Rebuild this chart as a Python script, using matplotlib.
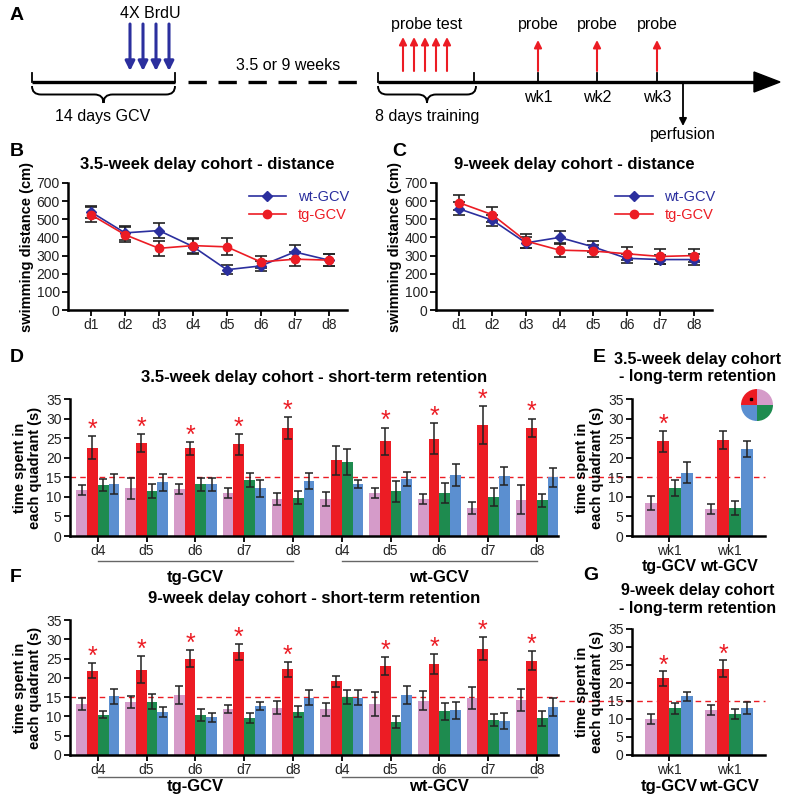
import numpy as np
import matplotlib
matplotlib.use('Agg')
import matplotlib.pyplot as plt
from matplotlib.path import Path
from matplotlib.patches import PathPatch, Polygon
from matplotlib.lines import Line2D

plt.rcParams['font.family'] = ['Liberation Sans', 'DejaVu Sans']

# ---- data ----
days = ['d1', 'd2', 'd3', 'd4', 'd5', 'd6', 'd7', 'd8']

b_wt = [540, 425, 438, 350, 222, 243, 320, 275]
b_wt_err = [35, 38, 40, 40, 25, 28, 38, 35]
b_tg = [525, 415, 340, 355, 348, 265, 280, 275]
b_tg_err = [40, 40, 40, 40, 47, 32, 40, 35]

c_wt = [558, 495, 370, 400, 348, 285, 278, 278]
c_wt_err = [35, 30, 30, 38, 30, 25, 25, 28]
c_tg = [592, 525, 380, 330, 325, 310, 295, 300]
c_tg_err = [42, 40, 40, 40, 35, 35, 40, 38]

ret_days = ['d4', 'd5', 'd6', 'd7', 'd8']
groups = ['tg-GCV', 'wt-GCV']

# quadrants: pink, red (target), green, blue ; tg d4-d8 then wt d4-d8
d_pink = [11.8, 12.2, 12.1, 11.0, 9.5, 9.4, 11.0, 9.5, 7.2, 9.3]
d_pink_err = [1.2, 2.7, 1.3, 1.3, 1.6, 1.8, 1.2, 1.3, 1.5, 3.8]
d_red = [22.6, 23.7, 22.4, 23.4, 27.6, 19.4, 24.2, 24.9, 28.4, 27.6]
d_red_err = [3.0, 2.3, 1.7, 2.7, 2.8, 3.7, 3.5, 4.0, 4.8, 2.4]
d_green = [13.0, 11.5, 13.2, 14.3, 9.8, 18.9, 11.4, 11.0, 10.0, 9.1]
d_green_err = [1.5, 1.8, 1.7, 1.7, 1.7, 3.4, 2.6, 2.5, 2.3, 1.7]
d_blue = [13.3, 13.7, 13.2, 12.2, 14.0, 13.3, 14.6, 15.6, 15.4, 15.0]
d_blue_err = [2.6, 2.1, 1.7, 2.2, 2.0, 1.0, 1.7, 2.7, 2.3, 2.5]
d_star = [1, 1, 1, 1, 1, 0, 1, 1, 1, 1]

e_pink = [8.5, 7.0]
e_pink_err = [1.8, 1.3]
e_red = [24.2, 24.6]
e_red_err = [2.7, 2.3]
e_green = [12.2, 7.2]
e_green_err = [2.0, 1.8]
e_blue = [16.2, 22.2]
e_blue_err = [2.6, 2.1]
e_star = [1, 0]

f_pink = [13.3, 13.8, 15.6, 11.9, 12.3, 11.8, 13.3, 14.1, 14.8, 14.2]
f_pink_err = [1.6, 1.5, 2.3, 1.1, 1.6, 1.6, 3.1, 2.5, 2.9, 2.8]
f_red = [21.9, 22.1, 25.0, 26.7, 22.2, 19.1, 23.1, 23.6, 27.6, 24.5]
f_red_err = [2.0, 3.5, 2.1, 2.1, 1.9, 1.5, 2.3, 2.7, 3.0, 2.4]
f_green = [10.5, 13.8, 10.4, 9.6, 11.2, 15.0, 8.6, 11.3, 9.1, 9.5]
f_green_err = [1.0, 1.9, 1.5, 1.4, 1.4, 1.9, 1.5, 2.2, 1.6, 2.0]
f_blue = [15.2, 11.2, 9.8, 12.7, 14.9, 14.9, 15.5, 11.6, 8.8, 12.4]
f_blue_err = [2.0, 1.3, 1.2, 1.0, 1.9, 2.0, 2.3, 2.2, 2.0, 2.4]
f_star = [1, 1, 1, 1, 1, 0, 1, 1, 1, 1]

g_pink = [10.1, 12.4]
g_pink_err = [1.4, 1.4]
g_red = [21.3, 24.0]
g_red_err = [2.0, 2.3]
g_green = [13.0, 11.3]
g_green_err = [1.5, 1.4]
g_blue = [16.3, 13.1]
g_blue_err = [1.2, 1.6]
g_star = [1, 1]

chance = 15

NAVY = '#2b2f9e'
RED = '#ec1c24'
quad_colors = ['#d59bc9', RED, '#1e8b4f', '#5b8fd0']
TXT = '#222222'

W, H = 800, 794
fig = plt.figure(figsize=(W / 100, H / 100), dpi=100)


def px_axes(x0, y0, x1, y1):
    return fig.add_axes([x0 / W, 1 - y1 / H, (x1 - x0) / W, (y1 - y0) / H])


def style(ax):
    for s in ['top', 'right']:
        ax.spines[s].set_visible(False)
    for s in ['left', 'bottom']:
        ax.spines[s].set_linewidth(1.8)
    ax.tick_params(direction='out', length=4, width=1.3, labelsize=10, colors='black', labelcolor=TXT, pad=2)


# ---- panel A: timeline ----
axA = px_axes(0, 0, 800, 140)
axA.set_xlim(0, 800)
axA.set_ylim(140, 0)
axA.axis('off')

line_y = 82
axA.plot([32, 175], [line_y, line_y], color='black', lw=2.4, solid_capstyle='butt')
axA.plot([188, 367], [line_y, line_y], color='black', lw=2.4, ls=(0, (5.5, 3.5)))
axA.plot([378, 758], [line_y, line_y], color='black', lw=2.4, solid_capstyle='butt')
axA.add_patch(Polygon([[754, 72], [780, line_y], [754, 92]], closed=True, color='black'))

for xt in [32, 175, 378, 474, 538, 597, 657]:
    axA.plot([xt, xt], [line_y - 9, line_y], color='black', lw=1.3)


def arrow(x, y_from, y_to, color, lw=2, ms=12):
    axA.annotate('', xy=(x, y_to), xytext=(x, y_from),
                 arrowprops=dict(arrowstyle='-|>', color=color, lw=lw, mutation_scale=ms,
                                 shrinkA=0, shrinkB=0))


for xb in [130, 143, 156, 169]:
    arrow(xb, 24, 71, NAVY, lw=2.2, ms=14)
for xr in [403, 414, 425, 436, 447]:
    arrow(xr, 71, 37, RED, lw=1.5, ms=11)
for xr in [538, 597, 657]:
    arrow(xr, 71, 40, RED, lw=1.5, ms=11)
arrow(683, 84, 126, 'black', lw=1.3, ms=11)


def brace(x0, x1, y, h, r=9):
    xm = (x0 + x1) / 2
    yh = y + h / 2
    verts = [(x0, y), (x0, yh), (x0 + r, yh), (xm - r, yh), (xm, yh), (xm, y + h),
             (x1, y), (x1, yh), (x1 - r, yh), (xm + r, yh), (xm, yh), (xm, y + h)]
    codes = [Path.MOVETO, Path.CURVE3, Path.CURVE3, Path.LINETO, Path.CURVE3, Path.CURVE3] * 2
    axA.add_patch(PathPatch(Path(verts, codes), fill=False, lw=1.4, color='black'))


brace(32, 175, 86, 17)
brace(378, 476, 86, 17)

fs_a = 11.5
axA.text(150, 13, '4X BrdU', ha='center', va='center', fontsize=fs_a)
axA.text(288, 66, '3.5 or 9 weeks', ha='center', va='center', fontsize=fs_a)
axA.text(427, 25, 'probe test', ha='center', va='center', fontsize=fs_a)
for xp, wk in zip([538, 597, 657], ['wk1', 'wk2', 'wk3']):
    axA.text(xp, 25, 'probe', ha='center', va='center', fontsize=fs_a)
    axA.text(xp, 98, wk, ha='center', va='center', fontsize=fs_a)
axA.text(103, 117, '14 days GCV', ha='center', va='center', fontsize=fs_a)
axA.text(427, 117, '8 days training', ha='center', va='center', fontsize=fs_a)
axA.text(683, 134, 'perfusion', ha='center', va='center', fontsize=fs_a)


# ---- panels B, C: swimming distance ----
def distance_panel(ax, wt, wt_err, tg, tg_err, title):
    x = np.arange(1, len(days) + 1)
    ax.errorbar(x, wt, yerr=wt_err, color=NAVY, marker='D', ms=5, lw=1.2,
                ecolor='#222', elinewidth=1.2, capsize=4, capthick=1.2, label='wt-GCV', zorder=3)
    ax.errorbar(x, tg, yerr=tg_err, color=RED, marker='o', ms=6, lw=1.2,
                ecolor='#222', elinewidth=1.2, capsize=4, capthick=1.2, label='tg-GCV', zorder=3)
    ax.set_xlim(0.32, 8.54)
    ax.set_ylim(0, 700)
    ax.set_yticks(range(0, 701, 100))
    ax.set_xticks(x)
    ax.set_xticklabels(days)
    style(ax)
    ax.set_ylabel('swimming distance (cm)', fontsize=10.5, fontweight='bold', labelpad=2)
    ax.set_title(title, fontsize=12, fontweight='bold', pad=10)
    handles = [Line2D([], [], color=NAVY, marker='D', ms=5, lw=1.2),
               Line2D([], [], color=RED, marker='o', ms=6, lw=1.2)]
    ax.legend(handles, ['wt-GCV', 'tg-GCV'], loc='upper left', bbox_to_anchor=(0.6, 1.05),
              frameon=False, fontsize=10.5, handlelength=2.6, labelspacing=0.3,
              labelcolor=[NAVY, RED])


axB = px_axes(68, 183, 347, 310)
distance_panel(axB, b_wt, b_wt_err, b_tg, b_tg_err, '3.5-week delay cohort - distance')
axC = px_axes(436, 183, 712, 310)
distance_panel(axC, c_wt, c_wt_err, c_tg, c_tg_err, '9-week delay cohort - distance')


# ---- quadrant bar panels ----
def quad_panel(ax, means, errs, stars, xlim, w=0.2):
    n = len(means[0])
    x = np.arange(n)
    offs = [-1.5 * w, -0.5 * w, 0.5 * w, 1.5 * w]
    for k in range(4):
        ax.bar(x + offs[k], means[k], w, color=quad_colors[k], linewidth=0, zorder=2)
        ax.errorbar(x + offs[k], means[k], yerr=errs[k], fmt='none', ecolor='#222',
                    elinewidth=1.1, capsize=3, capthick=1.1, zorder=3)
    for i in range(n):
        if stars[i]:
            top = means[1][i] + errs[1][i]
            ax.text(x[i] + offs[1], top + 1.6, '*', color=RED, ha='center', va='center',
                    fontsize=18)
    ax.set_xlim(*xlim)
    ax.set_ylim(0, 35)
    ax.set_yticks(range(0, 36, 5))
    ax.set_xticks(x)
    style(ax)
    ax.set_ylabel('time spent in\neach quadrant (s)', fontsize=10.5, fontweight='bold',
                  labelpad=3, linespacing=1.1)
    return x


def group_marks(ax, x, line_y, text_y):
    tr = ax.get_xaxis_transform()
    n = len(ret_days)
    for g, name in enumerate(groups):
        xs = x[g * n:(g + 1) * n]
        ax.plot([xs[0], xs[-1]], [line_y, line_y], color='#666', lw=1, transform=tr, clip_on=False)
        ax.text((xs[0] + xs[-1]) / 2, text_y, name, transform=tr, ha='center', va='center',
                fontsize=12, fontweight='bold')


def small_title(lines, y_px):
    for k, t in enumerate(lines):
        fig.text(698 / W, 1 - (y_px + 18 * k) / H, t, ha='center', va='center',
                 fontsize=11.5, fontweight='bold')


# D
axD = px_axes(70, 399, 558, 536)
xD = quad_panel(axD, [d_pink, d_red, d_green, d_blue],
                [d_pink_err, d_red_err, d_green_err, d_blue_err], d_star, (-0.57, 9.43), w=0.22)
axD.set_xticklabels(ret_days * 2)
axD.axhline(chance, color=RED, lw=1, ls=(0, (4, 3)), zorder=1)
axD.set_title('3.5-week delay cohort - short-term retention', fontsize=12, fontweight='bold', pad=12)
group_marks(axD, xD, -0.185, -0.30)

# E
axE = px_axes(632, 399, 765, 536)
xE = quad_panel(axE, [e_pink, e_red, e_green, e_blue],
                [e_pink_err, e_red_err, e_green_err, e_blue_err], e_star, (-0.62, 1.6))
axE.set_xticklabels(['wk1', 'wk1'])
axE.plot([-0.55, 1], [chance, chance], color=RED, lw=1, ls=(0, (4, 3)),
         transform=axE.get_yaxis_transform(), clip_on=False, zorder=1)
small_title(['3.5-week delay cohort', '- long-term retention'], 359)
for xi, name in zip(xE, groups):
    axE.text(xi, -0.22, name, transform=axE.get_xaxis_transform(), ha='center', va='center',
             fontsize=11.5, fontweight='bold')

# F
axF = px_axes(70, 620, 558, 755)
xF = quad_panel(axF, [f_pink, f_red, f_green, f_blue],
                [f_pink_err, f_red_err, f_green_err, f_blue_err], f_star, (-0.57, 9.43), w=0.22)
axF.set_xticklabels(ret_days * 2)
axF.axhline(chance, color=RED, lw=1, ls=(0, (4, 3)), zorder=1)
axF.set_title('9-week delay cohort - short-term retention', fontsize=12, fontweight='bold', pad=12)
group_marks(axF, xF, -0.165, -0.235)

# G
axG = px_axes(632, 629, 765, 755)
xG = quad_panel(axG, [g_pink, g_red, g_green, g_blue],
                [g_pink_err, g_red_err, g_green_err, g_blue_err], g_star, (-0.62, 1.6))
axG.set_xticklabels(['wk1', 'wk1'])
axG.plot([-0.55, 1], [chance, chance], color=RED, lw=1, ls=(0, (4, 3)),
         transform=axG.get_yaxis_transform(), clip_on=False, zorder=1)
small_title(['9-week delay cohort', '- long-term retention'], 591)
for xi, name in zip(xG, groups):
    axG.text(xi, -0.25, name, transform=axG.get_xaxis_transform(), ha='center', va='center',
             fontsize=12, fontweight='bold')

# pool diagram
axP = px_axes(737, 385, 777, 425)
axP.pie([1, 1, 1, 1], colors=[quad_colors[0], quad_colors[1], quad_colors[3], quad_colors[2]],
        startangle=0, counterclock=True, wedgeprops=dict(linewidth=0))
axP.plot([-0.37], [0.38], 'ks', ms=2)
axP.set_aspect('equal')

# panel letters
for lab, (xl, yl) in {'A': (10, 15), 'B': (10, 152), 'C': (392, 152), 'D': (10, 357),
                      'E': (593, 358), 'F': (10, 577), 'G': (583, 576)}.items():
    fig.text(xl / W, 1 - yl / H, lab, fontsize=14, fontweight='bold', va='center')

fig.savefig('out.png', dpi=100)
